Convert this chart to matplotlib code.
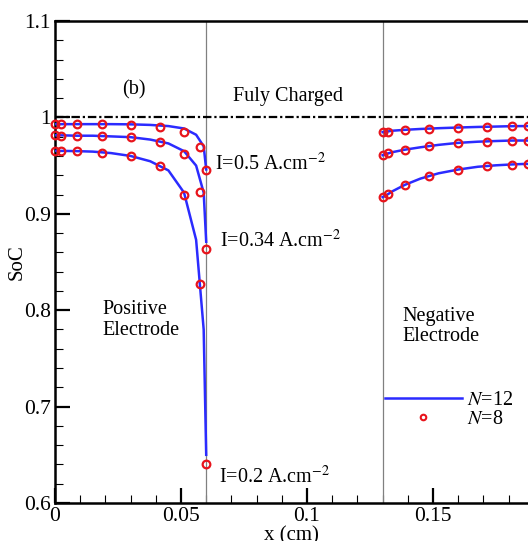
import matplotlib
matplotlib.use("Agg")
import matplotlib.pyplot as plt
from matplotlib.lines import Line2D

plt.rcParams['font.family'] = ['Liberation Serif', 'DejaVu Serif']
plt.rcParams['mathtext.fontset'] = 'stix'

# ---- data ----
# N=8 collocation points (positive electrode, 0..0.06 cm)
x8_pos = [0.0, 0.0023, 0.0088, 0.0185, 0.0300, 0.0415, 0.0512, 0.0577, 0.0600]
soc8_pos_top = [0.993, 0.993, 0.993, 0.993, 0.9922, 0.9905, 0.9853, 0.9698, 0.9453]
soc8_pos_mid = [0.9815, 0.981, 0.981, 0.981, 0.9795, 0.975, 0.9622, 0.9228, 0.8634]
soc8_pos_bot = [0.9653, 0.9653, 0.965, 0.9635, 0.960, 0.9494, 0.9194, 0.8271, 0.640]

# N=8 collocation points (negative electrode, 0.13..0.19 cm)
x8_neg = [0.1300, 0.1323, 0.1388, 0.1485, 0.1600, 0.1715, 0.1812, 0.1877, 0.1900]
soc8_neg_top = [0.9847, 0.9853, 0.987, 0.9884, 0.9895, 0.9902, 0.9909, 0.991, 0.991]
soc8_neg_mid = [0.9608, 0.9629, 0.9663, 0.9705, 0.9736, 0.975, 0.976, 0.976, 0.976]
soc8_neg_bot = [0.9173, 0.9207, 0.9301, 0.9391, 0.9459, 0.9494, 0.951, 0.9518, 0.9518]

# N=12 solution (lines)
x12_pos = [0.0, 0.0010, 0.0040, 0.0088, 0.0150, 0.0222, 0.0300, 0.0378,
           0.0450, 0.0512, 0.0560, 0.0590, 0.0600]
soc12_pos_top = [0.993, 0.993, 0.993, 0.993, 0.993, 0.993, 0.9928, 0.9922,
                 0.991, 0.9885, 0.982, 0.970, 0.946]
soc12_pos_mid = [0.9815, 0.9815, 0.9813, 0.981, 0.981, 0.9803, 0.9795, 0.977,
                 0.973, 0.965, 0.950, 0.922, 0.871]
soc12_pos_bot = [0.9653, 0.9653, 0.9652, 0.965, 0.9645, 0.963, 0.960, 0.9545,
                 0.945, 0.922, 0.873, 0.780, 0.650]

x12_neg = [0.1300, 0.1310, 0.1340, 0.1388, 0.1450, 0.1522, 0.1600, 0.1678,
           0.1750, 0.1812, 0.1860, 0.1890, 0.1900]
soc12_neg_top = [0.9847, 0.985, 0.9862, 0.9871, 0.988, 0.9888, 0.9895, 0.9901,
                 0.9905, 0.9909, 0.991, 0.991, 0.991]
soc12_neg_mid = [0.9608, 0.9618, 0.964, 0.9665, 0.969, 0.9715, 0.9736, 0.9748,
                 0.9755, 0.976, 0.976, 0.976, 0.976]
soc12_neg_bot = [0.9173, 0.9185, 0.9235, 0.930, 0.9365, 0.942, 0.9459, 0.9488,
                 0.9503, 0.9512, 0.9517, 0.9518, 0.9518]

fully_charged = 1.0
interfaces = [0.06, 0.13]
current_labels = ['I=0.5 A.cm$^{-2}$', 'I=0.34 A.cm$^{-2}$', 'I=0.2 A.cm$^{-2}$']
current_label_pos = [(0.0635, 0.9518), (0.0655, 0.8713), (0.0650, 0.627)]

# ---- figure ----
fig = plt.figure(figsize=(5.28, 5.41), dpi=100)
ax = fig.add_axes([55/528, 38/541, 473/528, 482/541])

blue = '#2b2bff'
red = '#e8141c'

for x, ys in [(x12_pos, [soc12_pos_top, soc12_pos_mid, soc12_pos_bot]),
              (x12_neg, [soc12_neg_top, soc12_neg_mid, soc12_neg_bot])]:
    for y in ys:
        ax.plot(x, y, color=blue, lw=1.8, zorder=3, clip_on=True)

for x, ys in [(x8_pos, [soc8_pos_top, soc8_pos_mid, soc8_pos_bot]),
              (x8_neg, [soc8_neg_top, soc8_neg_mid, soc8_neg_bot])]:
    for y in ys:
        ax.plot(x, y, ls='none', marker='o', ms=5.5, mfc='none', mec=red,
                mew=1.6, zorder=4, clip_on=False)

for xv in interfaces:
    ax.axvline(xv, color='#808080', lw=0.9, zorder=2)

dl, = ax.plot([0, 0.2], [fully_charged, fully_charged], color='black', lw=1.6, zorder=2)
dl.set_dashes([3.8, 1.3, 1.0, 1.3])

ax.set_xlim(0, 0.1877)
ax.set_ylim(0.6, 1.1)

ax.set_xticks([0, 0.05, 0.1, 0.15])
ax.set_xticklabels(['0', '0.05', '0.1', '0.15'])
ax.set_xticks([i * 0.01 for i in range(19)], minor=True)
ax.set_yticks([0.6, 0.7, 0.8, 0.9, 1.0, 1.1])
ax.set_yticklabels(['0.6', '0.7', '0.8', '0.9', '1', '1.1'])
ax.set_yticks([0.6 + i * 0.02 for i in range(26)], minor=True)

ax.tick_params(which='both', direction='in', top=False, right=False,
               labelsize=15.5, width=1.6)
ax.tick_params(which='major', length=11, pad=3)
ax.tick_params(which='minor', length=5.5, width=0.8)
ax.spines['right'].set_visible(False)
for s in ['left', 'bottom', 'top']:
    ax.spines[s].set_linewidth(1.8)

ax.set_xlabel('x (cm)', fontsize=15, labelpad=0)
ax.set_ylabel('SoC', fontsize=15)
ax.yaxis.set_label_coords(-0.061, 0.5)

ax.text(0.0313, 1.0285, '(b)', fontsize=14.5, ha='center', va='center')
ax.text(0.0925, 1.0212, 'Fuly Charged', fontsize=14.5, ha='center', va='center')
for lab, (tx, ty) in zip(current_labels, current_label_pos):
    ax.text(tx, ty, lab, fontsize=14.5, ha='left', va='center')
ax.text(0.0190, 0.790, 'Positive\nElectrode', fontsize=14.5, ha='left',
        va='center', linespacing=1.1)
ax.text(0.1380, 0.783, 'Negative\nElectrode', fontsize=14.5, ha='left',
        va='center', linespacing=1.1)

handles = [Line2D([], [], color=blue, lw=1.8),
           Line2D([], [], ls='none', marker='o', ms=4, mfc='none', mec=red, mew=1.5)]
ax.legend(handles, ['$N$=12', '$N$=8'], loc='upper left',
          bbox_to_anchor=(0.698, 0.232), frameon=False, fontsize=14.5,
          handlelength=3.8, handletextpad=0.25, labelspacing=0.0,
          borderpad=0, borderaxespad=0)

fig.savefig('out.png', dpi=100)
